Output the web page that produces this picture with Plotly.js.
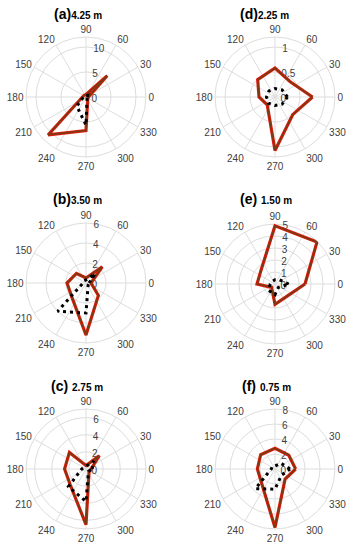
<!DOCTYPE html>
<html>
<head>
<meta charset="utf-8">
<script src="https://cdn.plot.ly/plotly-3.0.1.min.js"></script>
<style>html,body{margin:0;padding:0;background:#fff;}#chart{width:351px;height:550px;}</style>
</head>
<body>
<div id="chart"></div>
<script>
// Directions (degrees)
const directions = [0, 45, 90, 135, 180, 225, 270, 315];
const angleTicks = [0, 30, 60, 90, 120, 150, 180, 210, 240, 270, 300, 330];
const angleTickText = ['0','30','60','90','120','150','180','210','240','270','300','330'];

// Panel labels / depths
const panelLabels = ['(a)', '(b)', '(c)', '(d)', '(e)', '(f)'];
const depths = ['4.25 m', '3.50 m', '2.75 m', '2.25 m', '1.50 m', '0.75 m'];

// Series values (solid red and dotted black) per panel
const aRed = [0.5, 6.0, 0.5, 0.5, 0.7, 10.7, 6.7, 0.5];
const aDot = [0.3, 0.5, 0.3, 0.3, 0.5, 2.6, 5.6, 0.3];
const bRed = [0.5, 2.3, 0.5, 1.35, 1.9, 2.0, 5.2, 1.75];
const bDot = [0.3, 1.3, 0.3, 0.3, 0.3, 4.0, 3.0, 0.3];
const cRed = [0.6, 2.2, 0.4, 2.74, 2.5, 2.6, 6.5, 0.5];
const cDot = [0.7, 1.3, 0.3, 0.3, 0.5, 2.9, 3.8, 0.4];
const dRed = [0.75, 0.43, 0.58, 0.49, 0.32, 0.22, 1.07, 0.5];
const dDot = [0.25, 0.2, 0.17, 0.17, 0.17, 0.18, 0.17, 0.2];
const eRed = [2.5, 4.95, 4.85, 1.64, 1.5, 0.4, 1.7, 1.43];
const eDot = [1.15, 0.5, 0.35, 0.3, 0.4, 0.75, 0.9, 0.4];
const fRed = [2.75, 2.6, 2.75, 2.7, 2.35, 2.56, 7.8, 1.9];
const fDot = [2.0, 1.1, 0.4, 0.5, 0.5, 3.7, 2.7, 1.2];

// Radial axis limits and tick steps
const rMax = [12, 6, 7, 1.2, 5, 8];
const rStep = [5, 2, 2, 0.5, 1, 2];

const redSeries = [aRed, bRed, cRed, dRed, eRed, fRed];
const dotSeries = [aDot, bDot, cDot, dDot, eDot, fDot];

// Layout (positions in px)
const W = 351, H = 550, R = 60;
const centers = [[86,97],[86,283],[86,469],[275,97],[275,284],[275,469]];
const titlePos = [[78,14],[77,199],[77,386],[264,14],[266,199],[266,386]];
const titleSep = ['', '', ' ', '', ' ', ' '];

function close(a){ return a.concat([a[0]]); }

const data = [];
const layout = {
  width: W, height: H,
  margin: {l:0, r:0, t:0, b:0},
  paper_bgcolor: '#fff',
  showlegend: false,
  font: {family: 'Liberation Sans, Arial, sans-serif', color: '#404040', size: 10},
  annotations: []
};

for (let i = 0; i < 6; i++) {
  const sp = i === 0 ? 'polar' : 'polar' + (i + 1);
  const th = close(directions);
  data.push({type:'scatterpolar', mode:'lines', subplot: sp, theta: th, r: close(redSeries[i]),
    line:{color:'#e3190b', width:3.2}, hoverinfo:'skip'});
  data.push({type:'scatterpolar', mode:'lines', subplot: sp, theta: th, r: close(redSeries[i]),
    line:{color:'#7a3a12', width:1.6}, hoverinfo:'skip'});
  data.push({type:'scatterpolar', mode:'lines', subplot: sp, theta: th, r: close(dotSeries[i]),
    line:{color:'#000', width:3, dash:'3px,4px'}, hoverinfo:'skip'});
  const [cx, cy] = centers[i];
  layout[sp] = {
    domain: {x: [(cx - R) / W, (cx + R) / W], y: [1 - (cy + R) / H, 1 - (cy - R) / H]},
    bgcolor: '#fff',
    radialaxis: {range: [0, rMax[i]], tick0: 0, dtick: rStep[i], angle: 88, tickangle: 88,
      showline: false, ticks: '', gridcolor: '#dddddd', gridwidth: 1, layer: 'below traces',
      tickfont: {size: 10, color: '#404040'}},
    angularaxis: {tickmode: 'array', tickvals: angleTicks, ticktext: angleTickText,
      direction: 'counterclockwise', rotation: 0, ticks: '', showline: true,
      linecolor: '#dddddd', linewidth: 1, gridcolor: '#dddddd', layer: 'below traces',
      tickfont: {size: 10, color: '#404040'}}
  };
  const [tx, ty] = titlePos[i];
  layout.annotations.push({
    xref: 'paper', yref: 'paper', x: tx / W, y: 1 - ty / H, xanchor: 'center', yanchor: 'middle',
    showarrow: false,
    text: '<b>' + panelLabels[i] + titleSep[i] + '<span style="font-size:10px">' + depths[i] + '</span></b>',
    font: {size: 14, color: '#000', family: 'Liberation Sans, Arial, sans-serif'}
  });
}

Plotly.newPlot('chart', data, layout, {staticPlot: true, displayModeBar: false});
</script>
</body>
</html>
